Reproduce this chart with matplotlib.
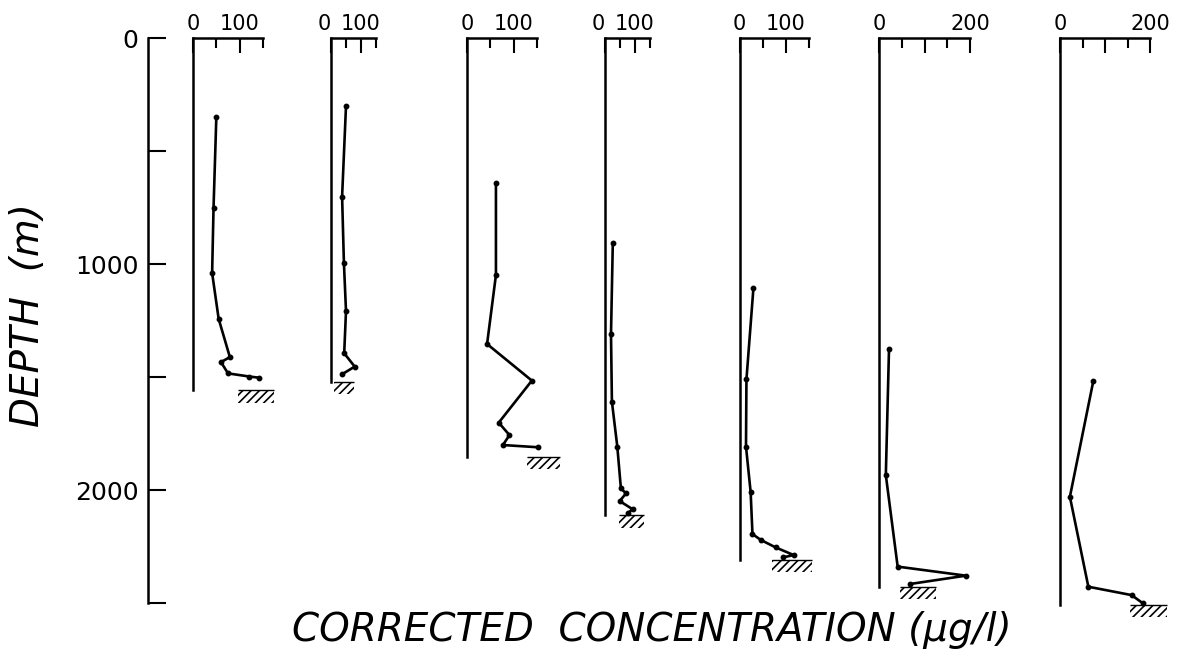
import matplotlib
matplotlib.use('Agg')
import matplotlib.pyplot as plt

# depth axis
depth_ticks = [0, 500, 1000, 1500, 2000, 2500]
depth_labels = ['0', '', '1000', '', '2000', '']

# concentration profiles (ug/l) vs depth (m)
conc_1 = [50, 44, 41, 55, 79, 60, 75, 121, 141]
depth_1 = [350, 752, 1040, 1243, 1412, 1434, 1484, 1498, 1503]
conc_2 = [50, 37, 43, 50, 44, 79, 38]
depth_2 = [301, 702, 994, 1208, 1395, 1454, 1487]
conc_3 = [62, 62, 43, 139, 68, 91, 77, 153]
depth_3 = [643, 1049, 1354, 1516, 1702, 1757, 1801, 1811]
conc_4 = [26, 20, 23, 41, 53, 70, 49, 92, 75]
depth_4 = [908, 1310, 1609, 1808, 1993, 2015, 2049, 2085, 2103]
conc_5 = [30, 15, 14, 24, 28, 46, 78, 117, 94]
depth_5 = [1108, 1510, 1808, 2008, 2195, 2221, 2254, 2288, 2298]
conc_6 = [22, 15, 41, 191, 68]
depth_6 = [1376, 1934, 2339, 2379, 2416]
conc_7 = [74, 22, 63, 159, 184]
depth_7 = [1518, 2030, 2428, 2465, 2501]

profiles = [(conc_1, depth_1), (conc_2, depth_2), (conc_3, depth_3),
            (conc_4, depth_4), (conc_5, depth_5), (conc_6, depth_6),
            (conc_7, depth_7)]

# bottom depth of each station and the scale length of each top axis
station_depth = [1558, 1522, 1854, 2111, 2310, 2429, 2509]
axis_max = [150, 100, 150, 100, 150, 200, 200]
# extent of the sea floor symbol (in concentration units)
floor_from = [96, 11, 128, 47, 70, 46, 156]
floor_to = [174, 76, 200, 129, 156, 125, 238]

# layout (pixels in a 1184x653 figure)
W, H = 1184, 653
zero_px = [193, 331, 467, 605, 739.5, 879, 1060]
end_px = [263, 376, 537, 650, 809, 970, 1150]
top_px, bot_px = 38, 603

plt.rcParams['font.family'] = 'DejaVu Sans'
plt.rcParams['hatch.linewidth'] = 1.2

fig = plt.figure(figsize=(W / 100, H / 100), dpi=100)
bottom = 1 - bot_px / H
height = (bot_px - top_px) / H

# depth axis
axd = fig.add_axes([148 / W, bottom, 30 / W, height])
axd.set_ylim(2500, 0)
for s in ['top', 'right', 'bottom']:
    axd.spines[s].set_visible(False)
axd.spines['left'].set_linewidth(1.8)
axd.set_xticks([])
axd.set_yticks(depth_ticks)
axd.set_yticklabels(depth_labels)
axd.tick_params(axis='y', direction='in', length=13, width=1.5, pad=7, labelsize=18)
axd.patch.set_alpha(0)

for i, (c, d) in enumerate(profiles):
    x0 = zero_px[i]
    ax = fig.add_axes([x0 / W, bottom, (end_px[i] - x0) / W, height])
    ax.patch.set_alpha(0)
    ax.set_xlim(0, axis_max[i])
    ax.set_ylim(2500, 0)
    ax.spines['right'].set_visible(False)
    ax.spines['bottom'].set_visible(False)
    ax.spines['top'].set_linewidth(1.8)
    ax.spines['left'].set_linewidth(1.8)
    ax.spines['left'].set_bounds(0, station_depth[i])
    ax.xaxis.tick_top()
    if axis_max[i] == 200:
        ax.set_xticks([0, 100, 200])
        ax.set_xticklabels(['0', '', '200'])
        ax.set_xticks([50, 150], minor=True)
    else:
        ax.set_xticks([0, 100])
        ax.set_xticklabels(['0', '100'])
        ax.set_xticks([50, 150], minor=True)
    ax.tick_params(axis='x', which='major', direction='in', length=11, width=1.5,
                   pad=3, labelsize=15)
    ax.tick_params(axis='x', which='minor', direction='in', length=7, width=1.5)
    ax.set_yticks([])
    # short axes: the "0" sits a bit left of the zero line
    if axis_max[i] == 100:
        ticks = ax.xaxis.get_major_ticks()
        ticks[0].label2.set_horizontalalignment('right')

    ax.plot(c, d, color='black', lw=1.9, marker='o', ms=3.2, clip_on=False)

    # sea floor symbol
    ax.bar(floor_from[i], 55, width=floor_to[i] - floor_from[i],
           bottom=station_depth[i], align='edge', fill=False, hatch='////',
           edgecolor='black', linewidth=0, clip_on=False)
    ax.hlines(station_depth[i], floor_from[i], floor_to[i], color='black',
              lw=1.0, clip_on=False)

fig.text(28 / W, 1 - 315 / H, 'DEPTH  (m)', rotation=90, fontsize=28,
         style='italic', ha='center', va='center')
fig.text(652 / W, 1 - 630 / H, 'CORRECTED  CONCENTRATION (\u03bcg/l)',
         fontsize=28, style='italic', ha='center', va='center')

fig.savefig('out.png', dpi=100)
